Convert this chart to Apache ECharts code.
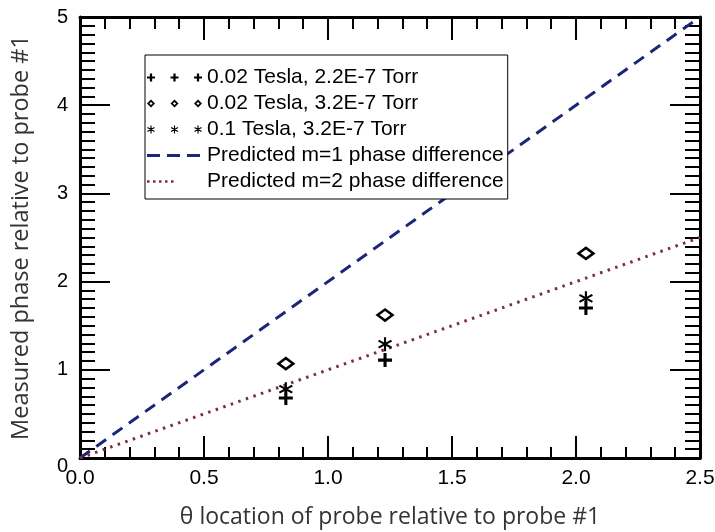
<!DOCTYPE html>
<html><head><meta charset="utf-8">
<script src="https://cdn.jsdelivr.net/npm/echarts@6/dist/echarts.min.js"></script>
<style>html,body{margin:0;padding:0;background:#fff}#c{width:715px;height:532px}</style>
</head><body><div id="c"></div>
<script>
// ---- data ----
const probeTheta = [0.83, 1.23, 2.04];
const phase002T_22 = [0.68, 1.11, 1.70];
const phase002T_32 = [1.07, 1.62, 2.32];
const phase01T_32 = [0.78, 1.29, 1.81];
const predTheta = [0, 2.5];
const predM1 = [0, 5];
const predM2 = [0, 2.5];
const seriesNames = [
  '0.02 Tesla, 2.2E-7 Torr',
  '0.02 Tesla, 3.2E-7 Torr',
  '0.1 Tesla, 3.2E-7 Torr',
  'Predicted m=1 phase difference',
  'Predicted m=2 phase difference'
];
const xTitle = 'θ location of probe relative to probe #1';
const yTitle = 'Measured phase relative to probe #1';

// ---- symbol paths ----
function plusPath(ox, s, tr) {
  const t = s * (tr || 0.22), c = s / 2 - t / 2;
  return `M${ox},${c}h${s}v${t}h${-s}z M${ox + c},0h${t}v${s}h${-t}z`;
}
function diamondPath(ox, s) {
  const h = s / 2, i = s * 0.3;
  return `M${ox + h},0L${ox + s},${h}L${ox + h},${s}L${ox},${h}Z ` +
    `M${ox + h},${i}L${ox + i},${h}L${ox + h},${s - i}L${ox + s - i},${h}Z`;
}
function starPath(ox, s) {
  const k = s / 14;
  const P = (x, y) => `${ox + x * k},${y * k}`;
  return `M${P(6, 0)}L${P(8, 0)}L${P(8, 14)}L${P(6, 14)}Z ` +
    `M${P(1.44, 11.37)}L${P(0.44, 9.63)}L${P(12.56, 2.63)}L${P(13.56, 4.37)}Z ` +
    `M${P(0.44, 4.37)}L${P(1.44, 2.63)}L${P(13.56, 9.63)}L${P(12.56, 11.37)}Z`;
}
function triple(fn, s, step, extra) {
  return 'path://' + [0, step, 2 * step].map(o => fn(o, s, extra)).join(' ');
}
const dashIcon = 'path://M0,2.5h13v3H0z M20,2.5h13v3H20z M40,2.5h13v3H40z M55,4';
const dotIcon = 'path://M0,3h2.5v2.5H0z M6,3h2.5v2.5H6z M12,3h2.5v2.5H12z M18,3h2.5v2.5H18z M24,3h2.5v2.5H24z M55,4';

const navy = '#1b2579';
const maroon = '#7a2d42';

function pairs(xs, ys) { return xs.map((x, i) => [x, ys[i]]); }

const chart = echarts.init(document.getElementById('c'), null, {renderer: 'canvas'});

const tickLine = {color: '#000', width: 2};
const baseX = {
  type: 'value', min: 0, max: 2.5, interval: 0.5,
  axisLine: {show: true, onZero: false, lineStyle: {color: '#000', width: 3}},
  axisTick: {show: true, inside: true, length: 22, lineStyle: tickLine},
  minorTick: {show: true, splitNumber: 5, length: 11, lineStyle: tickLine},
  splitLine: {show: false}
};
const baseY = {
  type: 'value', min: 0, max: 5, interval: 1,
  axisLine: {show: true, onZero: false, lineStyle: {color: '#000', width: 3}},
  axisTick: {show: true, inside: true, length: 30, lineStyle: tickLine},
  minorTick: {show: true, splitNumber: 10, length: 15, lineStyle: tickLine},
  splitLine: {show: false}
};
const titleFont = 'Open Sans, Lato, sans-serif';
const tickFont = 'Liberation Sans, Arial, sans-serif';

chart.setOption({
  animation: false,
  backgroundColor: '#fff',
  grid: {left: 80, right: 15, top: 17, bottom: 74, containLabel: false, outerBoundsMode: 'none'},
  legend: {
    left: 145, top: 55, orient: 'vertical',
    borderColor: '#000', borderWidth: 1, backgroundColor: '#fff',
    padding: [12, 4, 7, 2],
    itemWidth: 55, itemHeight: 8, itemGap: 5, itemTextGap: 5,
    textStyle: {fontFamily: tickFont, fontSize: 21, color: '#000', lineHeight: 21},
    data: [
      {name: seriesNames[0], icon: triple(plusPath, 8, 23.5, 0.28), itemStyle: {color: '#000', borderWidth: 0, opacity: 1}},
      {name: seriesNames[1], icon: triple(diamondPath, 8, 23.5), itemStyle: {color: '#000', borderWidth: 0, opacity: 1}},
      {name: seriesNames[2], icon: triple(starPath, 8, 23.5), itemStyle: {color: '#000', borderWidth: 0, opacity: 1}},
      {name: seriesNames[3], icon: dashIcon, itemStyle: {color: navy, borderWidth: 0}},
      {name: seriesNames[4], icon: dotIcon, itemStyle: {color: maroon, borderWidth: 0}}
    ]
  },
  xAxis: [
    Object.assign({}, baseX, {
      position: 'bottom',
      name: xTitle, nameLocation: 'middle', nameGap: 48,
      nameTextStyle: {fontFamily: titleFont, fontSize: 23, color: '#333'},
      axisLabel: {show: true, margin: 10, fontFamily: tickFont, fontSize: 21, color: '#000',
        formatter: v => v.toFixed(1)}
    }),
    Object.assign({}, baseX, {
      position: 'top',
      axisTick: {show: true, inside: true, length: 23, lineStyle: tickLine},
      minorTick: {show: true, splitNumber: 5, length: 12, lineStyle: tickLine},
      axisLabel: {show: false}
    })
  ],
  yAxis: [
    Object.assign({}, baseY, {
      position: 'left',
      name: yTitle, nameLocation: 'middle', nameGap: 47, nameRotate: 90,
      nameTextStyle: {fontFamily: titleFont, fontSize: 23.5, color: '#333'},
      axisLabel: {show: true, margin: 12, fontFamily: tickFont, fontSize: 20, color: '#000',
        formatter: v => v === 0 ? '{z|0}' : String(v),
        rich: {z: {fontFamily: tickFont, fontSize: 20, color: '#000', padding: [16, 0, 0, 0]}}}
    }),
    Object.assign({}, baseY, {position: 'right', axisLabel: {show: false}})
  ],
  series: [
    {
      name: seriesNames[3], type: 'line', xAxisIndex: 0, yAxisIndex: 0,
      data: pairs(predTheta, predM1), symbol: 'none', z: 2,
      color: navy,
      lineStyle: {color: navy, width: 3, type: [12, 8]}
    },
    {
      name: seriesNames[4], type: 'line', xAxisIndex: 0, yAxisIndex: 0,
      data: pairs(predTheta, predM2), symbol: 'none', z: 2,
      color: maroon,
      lineStyle: {color: maroon, width: 3, type: [2.5, 5.5]}
    },
    {
      name: seriesNames[0], type: 'scatter', xAxisIndex: 0, yAxisIndex: 0, z: 3,
      data: pairs(probeTheta, phase002T_22),
      symbol: 'path://' + plusPath(0, 14), symbolSize: 14,
      itemStyle: {color: '#000', opacity: 1}
    },
    {
      name: seriesNames[1], type: 'scatter', xAxisIndex: 0, yAxisIndex: 0, z: 3,
      data: pairs(probeTheta, phase002T_32),
      symbol: 'diamond', symbolSize: [15, 11],
      itemStyle: {color: 'rgba(0,0,0,0)', borderColor: '#000', borderWidth: 2.5, opacity: 1}
    },
    {
      name: seriesNames[2], type: 'scatter', xAxisIndex: 0, yAxisIndex: 0, z: 3,
      data: pairs(probeTheta, phase01T_32),
      symbol: 'path://' + starPath(0, 14), symbolSize: 14,
      itemStyle: {color: '#000', opacity: 1}
    }
  ]
});
</script></body></html>
